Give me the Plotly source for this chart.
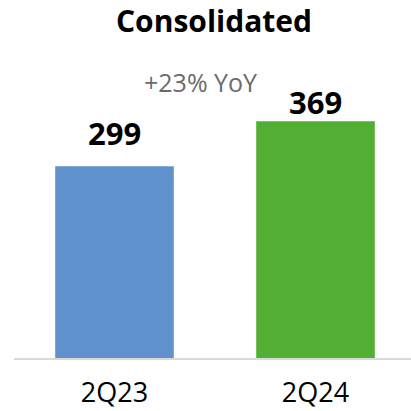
import plotly.graph_objects as go

# Quarterly consolidated figures
quarters = ["2Q23", "2Q24"]
values = [299, 369]
bar_colors = ["#5f91cc", "#53ae34"]
title_text = "Consolidated"
growth_text = "+23% YoY"

# vertical lift (px) of each value label above its bar
label_lift = [33, 19]

FONT = "Open Sans"

fig = go.Figure(
    go.Bar(
        x=quarters,
        y=values,
        marker=dict(color=bar_colors, line=dict(width=0)),
        width=0.59,
        hoverinfo="skip",
    )
)

for q, v, lift in zip(quarters, values, label_lift):
    fig.add_annotation(
        x=q, y=v, text=f"<b>{v}</b>",
        xref="x", yref="y", xanchor="center", yanchor="middle",
        yshift=lift, showarrow=False,
        font=dict(family=FONT, size=31, color="#000000"),
    )

fig.add_annotation(
    text=f"<b>{title_text}</b>",
    xref="paper", yref="paper", x=0.505, y=(358 - 20) / 358,
    xanchor="center", yanchor="middle",
    showarrow=False, font=dict(family=FONT, size=30, color="#000000"),
)
fig.add_annotation(
    text=growth_text,
    xref="paper", yref="paper", x=0.47, y=(358 - 82) / 358,
    xanchor="center", yanchor="middle",
    showarrow=False, font=dict(family=FONT, size=25, color="#6b6b6b"),
)

fig.update_layout(
    width=411,
    height=411,
    margin=dict(l=14, r=0, t=0, b=53),
    paper_bgcolor="white",
    plot_bgcolor="white",
    showlegend=False,
    xaxis=dict(
        range=[-0.5, 1.475],
        showline=True,
        linecolor="#d9d9d9",
        linewidth=2,
        showgrid=False,
        ticks="",
        ticklabelstandoff=10,
        tickfont=dict(family=FONT, size=27, color="#000000"),
        fixedrange=True,
    ),
    yaxis=dict(
        range=[0, 558],
        visible=False,
        showgrid=False,
        zeroline=False,
        fixedrange=True,
    ),
)

fig.write_html("out.html")
